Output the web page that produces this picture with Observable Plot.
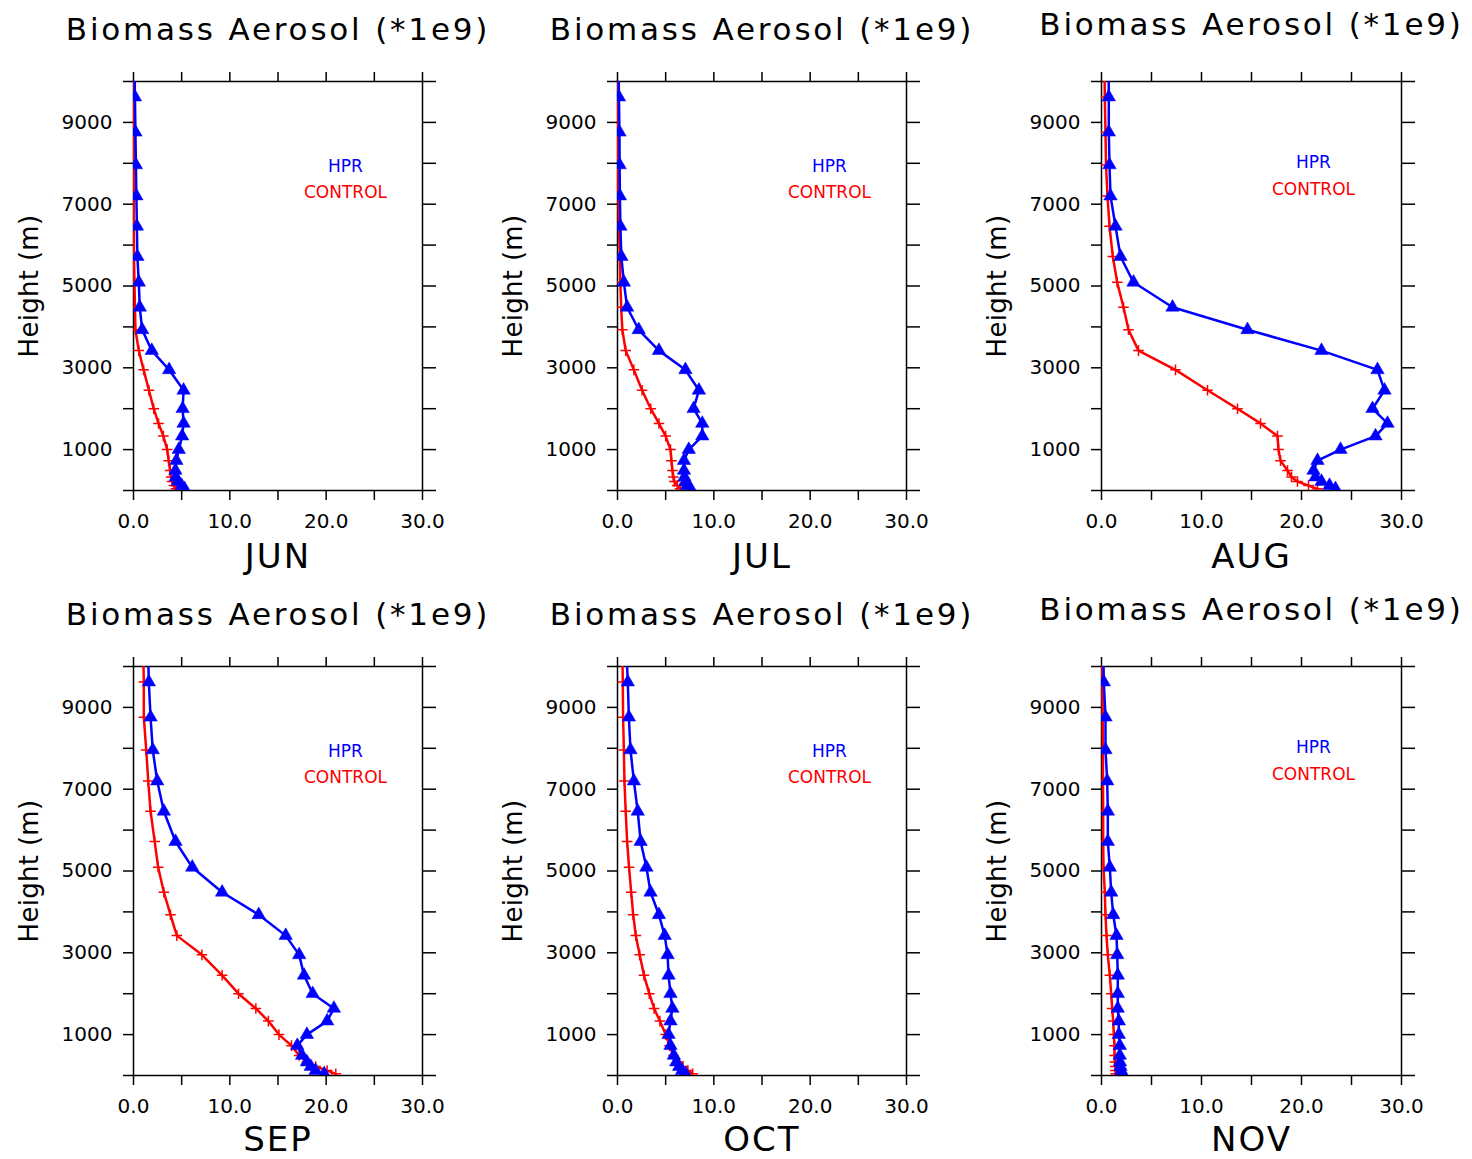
<!DOCTYPE html>
<html><head><meta charset="utf-8">
<script src="https://cdn.jsdelivr.net/npm/d3@7"></script>
<script src="https://cdn.jsdelivr.net/npm/@observablehq/plot@0.6"></script>
<style>
body{margin:0;background:#fff;}
#wrap{position:relative;width:1472px;height:1159px;overflow:hidden;background:#fff;}
#wrap svg{position:absolute;overflow:visible;}
</style></head><body><div id="wrap"></div>
<script>
// Model levels (m)
const levels = [40, 120, 220, 330, 490, 730, 1000, 1330, 1640, 2000, 2450, 2950, 3420, 3930, 4480, 5090, 5720, 6460, 7200, 7960, 8760, 9620, 10500];

const junHPR = [5.3, 5.0, 4.6, 4.4, 4.35, 4.45, 4.7, 5.05, 5.2, 5.1, 5.2, 3.7, 1.9, 0.9, 0.65, 0.55, 0.4, 0.35, 0.3, 0.25, 0.2, 0.15, 0.1];
const junCTL = [4.4, 4.2, 4.0, 3.9, 3.8, 3.65, 3.5, 3.1, 2.6, 2.1, 1.6, 1.05, 0.55, 0.2, 0.15, 0.1, 0.05, 0.03, 0.02, 0.02, 0.02, 0.02, 0.02];
const julHPR = [7.6, 7.2, 7.05, 6.95, 6.9, 6.9, 7.4, 8.8, 8.8, 7.9, 8.45, 7.05, 4.3, 2.2, 1.0, 0.66, 0.4, 0.3, 0.25, 0.22, 0.2, 0.15, 0.1];
const julCTL = [6.5, 6.2, 5.9, 5.8, 5.7, 5.6, 5.5, 5.0, 4.3, 3.45, 2.55, 1.7, 0.85, 0.5, 0.38, 0.3, 0.24, 0.15, 0.1, 0.08, 0.06, 0.05, 0.05];
const augHPR = [23.4, 22.8, 22.0, 21.4, 21.2, 21.6, 23.9, 27.4, 28.6, 27.1, 28.3, 27.6, 22.0, 14.6, 7.1, 3.2, 1.9, 1.4, 0.9, 0.8, 0.73, 0.73, 0.7];
const augCTL = [21.6, 20.7, 19.6, 19.0, 18.6, 17.9, 17.7, 17.6, 15.9, 13.6, 10.6, 7.4, 3.7, 2.7, 2.2, 1.57, 1.13, 0.8, 0.6, 0.45, 0.4, 0.33, 0.3];
const sepHPR = [19.8, 18.9, 18.4, 18.0, 17.5, 17.0, 18.0, 20.1, 20.8, 18.6, 17.7, 17.2, 15.8, 13.0, 9.2, 6.1, 4.36, 3.15, 2.46, 2.0, 1.77, 1.59, 1.5];
const sepCTL = [21.0, 20.1, 18.9, 18.0, 17.2, 16.4, 15.1, 14.0, 12.7, 10.9, 9.2, 7.1, 4.5, 3.84, 3.15, 2.56, 2.2, 1.77, 1.53, 1.32, 1.07, 1.07, 1.0];
const octHPR = [7.06, 6.7, 6.4, 6.1, 5.85, 5.5, 5.3, 5.5, 5.7, 5.5, 5.3, 5.2, 4.9, 4.3, 3.43, 3.0, 2.4, 2.1, 1.7, 1.35, 1.18, 1.07, 0.9];
const octCTL = [7.8, 7.3, 6.8, 6.3, 5.8, 5.4, 5.0, 4.4, 3.8, 3.3, 2.75, 2.3, 1.9, 1.63, 1.42, 1.2, 1.0, 0.85, 0.72, 0.66, 0.58, 0.55, 0.5];
const novHPR = [2.07, 1.97, 1.9, 1.85, 1.83, 1.83, 1.73, 1.73, 1.63, 1.63, 1.63, 1.57, 1.5, 1.17, 0.97, 0.83, 0.63, 0.63, 0.57, 0.4, 0.4, 0.23, 0.17];
const novCTL = [1.43, 1.4, 1.37, 1.33, 1.3, 1.3, 1.23, 1.17, 1.07, 0.97, 0.83, 0.63, 0.5, 0.4, 0.33, 0.2, 0.17, 0.17, 0.15, 0.15, 0.12, 0.1, 0.07];

const months = ["JUN", "JUL", "AUG", "SEP", "OCT", "NOV"];
const titleText = "Biomass Aerosol (*1e9)";
const yLabelText = "Height (m)";
const seriesNames = ["HPR", "CONTROL"];
const xTickValues = [0, 10, 20, 30];
const xTickLabels = ["0.0", "10.0", "20.0", "30.0"];
const xMinorTicks = [0, 5, 10, 15, 20, 25, 30];
const yTickValues = [1000, 3000, 5000, 7000, 9000];
const yMinorTicks = [0, 1000, 2000, 3000, 4000, 5000, 6000, 7000, 8000, 9000, 10000];

const panels = [
  {month: months[0], hpr: junHPR, ctl: junCTL, col: 0, row: 0},
  {month: months[1], hpr: julHPR, ctl: julCTL, col: 1, row: 0},
  {month: months[2], hpr: augHPR, ctl: augCTL, col: 2, row: 0},
  {month: months[3], hpr: sepHPR, ctl: sepCTL, col: 0, row: 1},
  {month: months[4], hpr: octHPR, ctl: octCTL, col: 1, row: 1},
  {month: months[5], hpr: novHPR, ctl: novCTL, col: 2, row: 1}
];

const colX = [0, 484, 968];
const rowY = [0, 585];
const colW = [289, 289, 300];
const ML = 133, MT = 81, FH = 409, MR = 60, MB = 95;
const font = "DejaVu Sans, sans-serif";
const wrap = document.getElementById("wrap");

for (const p of panels) {
  const data = levels.map((h, i) => ({h, hpr: p.hpr[i], ctl: p.ctl[i]}));
  const c2 = p.col === 2;
  const mt = MT + (c2 && p.row === 0 ? 1 : 0);
  const svg = Plot.plot({
    width: ML + colW[p.col] + MR,
    height: mt + FH + MB,
    marginLeft: ML, marginTop: mt, marginRight: MR, marginBottom: MB,
    x: {domain: [0, 30]},
    y: {domain: [0, 10000]},
    style: {fontFamily: font, fontSize: "20px", color: "#000", background: "transparent", overflow: "visible"},
    marks: [
      Plot.axisX({anchor: "bottom", ticks: xMinorTicks, tickSize: 10, strokeWidth: 1.5, tickFormat: () => "", label: null}),
      Plot.axisX({anchor: "bottom", ticks: xTickValues, tickSize: 0, tickPadding: 23, strokeWidth: 0, fontSize: 20,
        tickFormat: d => xTickLabels[xTickValues.indexOf(d)], label: null}),
      Plot.axisX({anchor: "top", ticks: xMinorTicks, tickSize: 10, strokeWidth: 1.5, tickFormat: () => "", label: null}),
      Plot.axisY({anchor: "left", ticks: yMinorTicks, tickSize: 10, strokeWidth: 1.5, tickFormat: () => "", label: null}),
      Plot.axisY({anchor: "left", ticks: yTickValues, tickSize: 0, tickPadding: 21, strokeWidth: 0, fontSize: 20,
        tickFormat: d => String(d), label: null}),
      Plot.axisY({anchor: "right", ticks: yMinorTicks, tickSize: 13, strokeWidth: 1.5, tickFormat: () => "", label: null}),
      Plot.frame({stroke: "#000", strokeWidth: 1.5}),
      Plot.line(data, {x: "ctl", y: "h", stroke: "#ff0000", strokeWidth: 2.5, clip: true}),
      Plot.dot(data, {x: "ctl", y: "h", symbol: "plus", r: 3.5, stroke: "#ff0000", strokeWidth: 1.5, clip: true}),
      Plot.line(data, {x: "hpr", y: "h", stroke: "#0000ff", strokeWidth: 2.5, clip: true}),
      Plot.dot(data, {x: "hpr", y: "h", symbol: "triangle", r: 5, fill: "#0000ff", stroke: "#0000ff", strokeWidth: 0.5, clip: true}),
      Plot.text([titleText], {frameAnchor: "top", dy: c2 ? -56 : -51, lineAnchor: "middle", fontSize: 31, fill: "#000"}),
      Plot.text([p.month], {frameAnchor: "bottom", dy: p.row === 0 ? 67 : 65, lineAnchor: "middle", fontSize: 34, fill: "#000"}),
      Plot.text([yLabelText], {frameAnchor: "left", dx: -104, rotate: -90, textAnchor: "middle", lineAnchor: "middle", fontSize: 26, fill: "#000"}),
      Plot.text([seriesNames[0]], {frameAnchor: "top-left", dx: 212, dy: c2 ? 81 : 85, fontSize: 17, fill: "#0000ff", textAnchor: "middle", lineAnchor: "middle"}),
      Plot.text([seriesNames[1]], {frameAnchor: "top-left", dx: 212, dy: c2 ? 108 : 111, fontSize: 17, fill: "#ff0000", textAnchor: "middle", lineAnchor: "middle"})
    ]
  });
  svg.style.left = colX[p.col] + "px";
  svg.style.top = (rowY[p.row] + (c2 && p.row === 0 ? -1 : 0)) + "px";
  d3.select(svg).selectAll("text").each(function() {
    const t = this.textContent;
    if (t === titleText) d3.select(this).style("letter-spacing", "2.8px");
    else if (months.includes(t)) d3.select(this).style("letter-spacing", "2px");
    else if (t === yLabelText) d3.select(this).style("letter-spacing", "0.3px");
  });
  wrap.appendChild(svg);
}
</script></body></html>
